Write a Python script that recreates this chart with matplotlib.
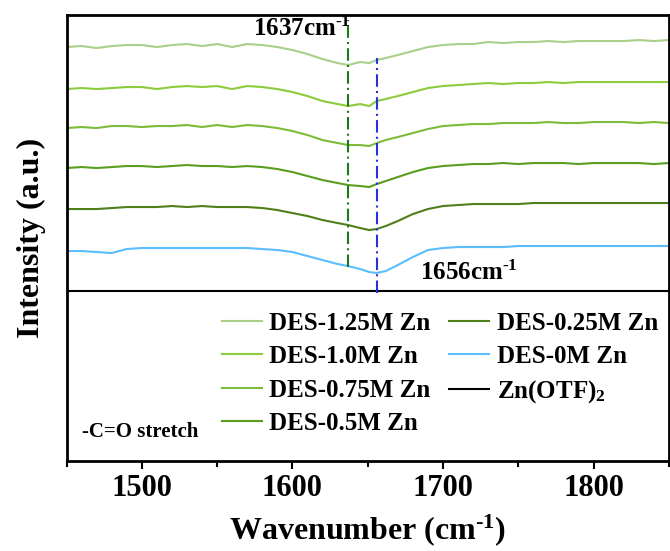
import matplotlib
matplotlib.use('Agg')
import matplotlib.pyplot as plt
from matplotlib.ticker import MultipleLocator

plt.rcParams['font.family'] = ['Liberation Serif', 'DejaVu Serif']
plt.rcParams['font.weight'] = 'bold'
plt.rcParams['mathtext.fontset'] = 'custom'
plt.rcParams['mathtext.rm'] = 'Liberation Serif:bold'
plt.rcParams['mathtext.bf'] = 'Liberation Serif:bold'
plt.rcParams['mathtext.default'] = 'bf'

# wavenumber grid (cm-1)
wavenumber = [1450, 1460, 1470, 1480, 1490, 1500, 1510, 1520, 1530, 1540,
              1550, 1560, 1570, 1580, 1590, 1600, 1610, 1620, 1630,
              1637, 1645, 1651, 1656, 1662, 1670,
              1680, 1690, 1700, 1710, 1720, 1730, 1740, 1750, 1760, 1770,
              1780, 1790, 1800, 1810, 1820, 1830, 1840, 1850]

# stacked intensities (a.u., offset)
des_125 = [414, 415, 413, 415, 416, 416, 414, 416, 417, 415,
           417, 414, 417, 416, 414, 411, 407, 402, 398,
           396, 399, 398, 401, 403, 406,
           410, 414, 416, 417, 417, 419, 418, 419, 419, 420,
           419, 420, 420, 420, 420, 421, 420, 421]
des_100 = [372, 373, 372, 373, 374, 374, 372, 374, 375, 374,
           375, 372, 375, 374, 372, 369, 365, 360, 357,
           355, 357, 355, 360, 362, 365,
           369, 373, 375, 376, 377, 378, 377, 378, 378, 379,
           378, 379, 379, 379, 379, 379, 379, 379]
des_075 = [333, 334, 333, 335, 335, 334, 335, 335, 336, 334,
           336, 334, 336, 335, 333, 330, 326, 321, 318,
           316, 316, 315, 318, 321, 324,
           328, 332, 335, 336, 337, 337, 338, 338, 338, 339,
           338, 338, 339, 339, 339, 338, 339, 338]
des_050 = [293, 294, 293, 294, 295, 295, 294, 295, 296, 295,
           295, 294, 295, 294, 292, 289, 285, 281, 278,
           276, 275, 274, 277, 280, 284,
           289, 293, 295, 296, 297, 297, 298, 297, 298, 298,
           298, 297, 298, 298, 298, 298, 297, 298]
des_025 = [252, 252, 252, 253, 254, 254, 254, 255, 254, 255,
           254, 254, 254, 253, 251, 248, 245, 241, 238,
           236, 233, 231, 232, 235, 240,
           247, 252, 255, 256, 257, 257, 257, 257, 258, 258,
           258, 258, 258, 258, 258, 258, 258, 258]
des_000 = [210, 210, 209, 208, 212, 213, 213, 213, 213, 213,
           213, 213, 213, 212, 211, 209, 205, 201, 197,
           195, 192, 189, 188, 190, 196,
           204, 211, 213, 214, 214, 214, 214, 215, 215, 215,
           215, 215, 215, 215, 215, 215, 215, 215]
zn_otf = [170] * len(wavenumber)

series = [des_125, des_100, des_075, des_050, des_025, des_000, zn_otf]
labels = ['DES-1.25M Zn', 'DES-1.0M Zn', 'DES-0.75M Zn', 'DES-0.5M Zn',
          'DES-0.25M Zn', 'DES-0M Zn', r'Zn(OTF)$_2$']
colors = ['#a9cf8a', '#8ccc3c', '#7dbb3a', '#5a9e20', '#4f7f1a', '#5bbcff', '#000000']

fig = plt.figure(figsize=(6.7, 5.51), dpi=100)
ax = fig.add_axes([0.0993, 0.1633, 0.899, 0.8094])

for y, lab, c in zip(series, labels, colors):
    ax.plot(wavenumber, y, color=c, lw=1.5, label=lab)

# peak markers
ax.vlines(1637, 194, 441, colors='#1a7a1a', linestyles=(0, (6, 2, 1, 2)), lw=1.5)
ax.vlines(1656, 168, 403, colors='#2233dd', linestyles=(0, (6, 2, 1, 2)), lw=1.5)
ax.text(1639, 432, r'1637cm$^{\text{-1}}$', ha='right', va='center', fontsize=18, fontweight='bold')
ax.text(1685, 188, r'1656cm$^{\text{-1}}$', ha='left', va='center', fontsize=18, fontweight='bold')
ax.text(1460, 29, '-C=O stretch', ha='left', va='center', fontsize=15, fontweight='bold')

ax.set_xlim(1450, 1850)
ax.set_ylim(0, 446)
ax.xaxis.set_major_locator(MultipleLocator(100))
ax.xaxis.set_minor_locator(MultipleLocator(50))
ax.set_yticks([])
ax.tick_params(axis='x', which='major', direction='out', length=6, width=1.5,
               labelsize=22, pad=3)
ax.tick_params(axis='x', which='minor', direction='out', length=4, width=1.5)
for s in ax.spines.values():
    s.set_linewidth(2)

ax.set_xlabel(r'Wavenumber (cm$^{\text{-1}}$)', fontsize=23, fontweight='bold', labelpad=7)
ax.set_ylabel('Intensity (a.u.)', fontsize=23, fontweight='bold', labelpad=15)

ax.legend(loc='upper left', bbox_to_anchor=(0.258, 0.335), ncol=2, frameon=False,
          fontsize=18, handlelength=1.6, handletextpad=0.3, columnspacing=0.75,
          labelspacing=0.42, borderpad=0, borderaxespad=0)

fig.savefig('out.png', dpi=100)
